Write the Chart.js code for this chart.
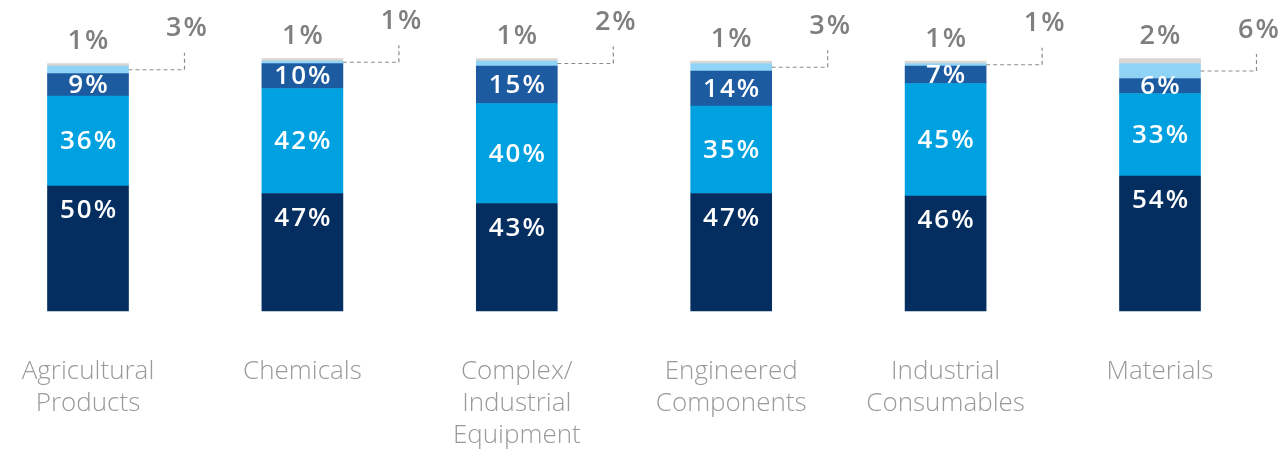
<!DOCTYPE html>
<html>
<head>
<meta charset="utf-8">
<script src="https://cdn.jsdelivr.net/npm/chart.js@4"></script>
<style>
html,body{margin:0;padding:0;background:#fff;}
#wrap{width:1280px;height:452px;position:relative;}
</style>
</head>
<body>
<div id="wrap"><canvas id="c"></canvas></div>
<script>
const categories = [
  ['Agricultural','Products'],
  ['Chemicals'],
  ['Complex/','Industrial','Equipment'],
  ['Engineered','Components'],
  ['Industrial','Consumables'],
  ['Materials']
];
const seriesNavy  = [50, 47, 43, 47, 46, 54];
const seriesBlue  = [36, 42, 40, 35, 45, 33];
const seriesMid   = [9, 10, 15, 14, 7, 6];
const seriesLight = [3, 1, 2, 3, 1, 6];
const seriesGray  = [1, 1, 1, 1, 1, 2];

const colors = ['#042d60', '#00a1e0', '#1d5ba1', '#8fd3f7', '#d9d5d0'];
const IN_FONT = '600 26px "Open Sans"';
const OUT_FONT = '600 27px "Open Sans"';
const LS = 2;

const labelPlugin = {
  id: 'labels',
  afterDatasetsDraw(chart) {
    const ctx = chart.ctx;
    ctx.save();
    ctx.textAlign = 'center';
    ctx.textBaseline = 'middle';
    try { ctx.letterSpacing = LS + 'px'; } catch(e) {}
    const txt = (s, x, y) => ctx.fillText(s, x + LS / 2, y);
    ctx.font = IN_FONT;
    [0,1,2].forEach(di => {
      const meta = chart.getDatasetMeta(di);
      const data = chart.data.datasets[di].data;
      meta.data.forEach((bar, i) => {
        const p = bar.getProps(['x','y','base'], true);
        ctx.fillStyle = '#ffffff';
        const y = di === 0 ? p.y + 25 : (p.y + p.base) / 2 + 1;
        txt(data[i] + '%', p.x, y);
      });
    });
    ctx.font = OUT_FONT;
    const metaL = chart.getDatasetMeta(3);
    const dataL = chart.data.datasets[3].data;
    metaL.data.forEach((bar, i) => {
      const p = bar.getProps(['x','y','base','width'], true);
      const midY = (p.y + p.base) / 2;
      const x0 = p.x + p.width / 2;
      const x1 = x0 + 56;
      ctx.save();
      ctx.strokeStyle = '#8c8c8c';
      ctx.lineWidth = 1.2;
      ctx.setLineDash([4, 3]);
      ctx.beginPath();
      ctx.moveTo(x0, midY);
      ctx.lineTo(x1, midY);
      ctx.lineTo(x1, midY - 17);
      ctx.stroke();
      ctx.restore();
      ctx.fillStyle = '#7f7f80';
      txt(dataL[i] + '%', x1 + 2, midY - 41);
    });
    const metaG = chart.getDatasetMeta(4);
    const dataG = chart.data.datasets[4].data;
    metaG.data.forEach((bar, i) => {
      const p = bar.getProps(['x','y'], true);
      ctx.fillStyle = '#7f7f80';
      txt(dataG[i] + '%', p.x, p.y - 22);
    });
    ctx.restore();
  }
};

const mk = (data, color) => ({
  data: data,
  backgroundColor: color,
  borderWidth: 0,
  barThickness: 81,
  clip: false
});

new Chart(document.getElementById('c'), {
  type: 'bar',
  data: {
    labels: categories,
    datasets: [
      mk(seriesNavy, colors[0]),
      mk(seriesBlue, colors[1]),
      mk(seriesMid, colors[2]),
      mk(seriesLight, colors[3]),
      mk(seriesGray, colors[4])
    ]
  },
  options: {
    responsive: true,
    maintainAspectRatio: false,
    animation: false,
    layout: { padding: { left: 88, right: 120, top: 61, bottom: 0 } },
    plugins: { legend: { display: false }, tooltip: { enabled: false } },
    scales: {
      x: {
        stacked: true,
        offset: false,
        grid: { display: false, drawTicks: false },
        border: { display: false },
        afterFit(scale) {
          scale.height = 141;
          scale.paddingLeft = 0;
          scale.paddingRight = 0;
        },
        ticks: {
          autoSkip: false,
          maxRotation: 0,
          padding: 45,
          color: '#9a9a9a',
          font: { family: '"Open Sans"', weight: '300', size: 26, lineHeight: 1.22 }
        }
      },
      y: {
        stacked: true,
        display: false,
        min: 0,
        max: 100
      }
    }
  },
  plugins: [labelPlugin]
});
</script>
</body>
</html>
